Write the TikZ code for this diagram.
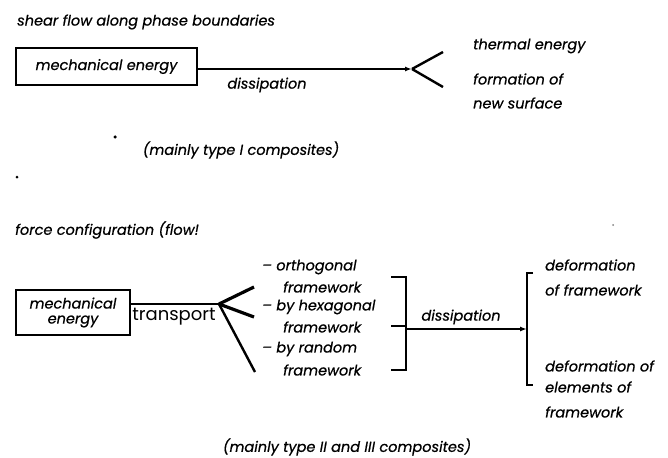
\documentclass[tikz,border=0pt]{standalone}
\usepackage{fontspec}
\setmainfont{Poppins}
\newfontfamily\futit{Poppins}[UprightFeatures={FakeBold=0.6}, ItalicFeatures={FakeBold=0.6}]
\usetikzlibrary{arrows.meta}
\begin{document}
\begin{tikzpicture}[x=1pt,y=-1pt,
  lbl/.style={font=\futit\itshape\fontsize{14.5}{15}\selectfont, inner sep=0pt},
  lblw/.style={lbl, anchor=west},
  boxed/.style={draw, line width=1.5pt, inner sep=0pt, font=\futit\itshape\fontsize{14.5}{15}\selectfont, align=center},
  conn/.style={line width=2.4pt},
  thin/.style={line width=1.8pt},
  tip/.style={-{Latex[length=7pt,width=5pt]}},
  dotm/.style={circle, fill=black, inner sep=0pt, minimum size=3.5pt}
]
\useasboundingbox (0,0) rectangle (668,457);
% ---------- top diagram ----------
\node[lblw] (t1) at (17,22) {shear flow along phase boundaries};
\node[boxed, minimum width=181pt, minimum height=37pt] (box1) at (106.5,66.5) {mechanical energy};
\coordinate (f1) at (412,69);
\coordinate (f1a) at (443,52);
\coordinate (f1b) at (443,87);
\draw[thin, tip] (box1.east |- f1) -- (f1);
\draw[conn] (f1) -- (f1a);
\draw[conn] (f1) -- (f1b);
\node[lbl] (d1) at (267,85) {dissipation};
\node[lblw] (te) at (473,46) {thermal energy};
\node[lblw] (fo) at (473,79) {formation of};
\node[lblw] (ns) at (473,103) {new surface};
\node[dotm] (dot1) at (115,137) {};
\node[lbl] (c1) at (241,150) {(mainly type I composites)};
\node[dotm, minimum size=3pt] (dot2) at (17,177) {};
% ---------- bottom diagram ----------
\node[lblw] (t2) at (15,230) {force configuration (flow!};
\node[boxed, minimum width=114pt, minimum height=45pt] (box2) at (73,312.5) {mechanical\\energy};
\coordinate (f2) at (219,304);
\coordinate (f2a) at (254,287);
\coordinate (f2b) at (254,317);
\coordinate (f2c) at (255,372);
\draw[conn] (box2.east |- f2) -- (f2);
\node[font=\fontsize{18}{20}\selectfont, inner sep=0pt] (tr) at (174,317) {transport};
\draw[conn, line width=3.2pt] (f2) -- (f2a);
\draw[conn, line width=3.2pt] (f2) -- (f2b);
\draw[conn] (f2) -- (f2c);
\node[lblw] (o1) at (262,267) {– orthogonal};
\node[lblw] (o2) at (283,287) {framework};
\node[lblw] (h1) at (262,307) {– by hexagonal};
\node[lblw] (h2) at (283,327) {framework};
\node[lblw] (r1) at (262,349) {– by random};
\node[lblw] (r2) at (283,370) {framework};
% left bracket
\coordinate (bt) at (406,277);
\coordinate (bb) at (406,370);
\coordinate (bm) at (406,329);
\draw[conn, line width=2.8pt] (391,277) -- (bt) -- (bb) -- (391,370);
\draw[conn, line width=2.8pt] (391,326) -- (406,326);
% right bracket
\coordinate (rt) at (527,273);
\coordinate (rb) at (527,385);
\coordinate (rm) at (527,329);
\draw[thin] (533,273) -- (rt) -- (rb) -- (533,385);
\draw[conn, tip] (bm) -- (rm);
\node[lbl] (d2) at (461,317) {dissipation};
\node[lblw] (df1) at (545,265) {deformation};
\node[lblw] (df2) at (545,290) {of framework};
\node[lblw] (de1) at (545,366) {deformation of};
\node[lblw] (de2) at (545,387) {elements of};
\node[lblw] (de3) at (545,412) {framework};
\node[lbl] (c2) at (347,447) {(mainly type II and III composites)};
\node[dotm, minimum size=2pt, fill=black!50] (dot3) at (613,225) {};
\end{tikzpicture}
\end{document}
